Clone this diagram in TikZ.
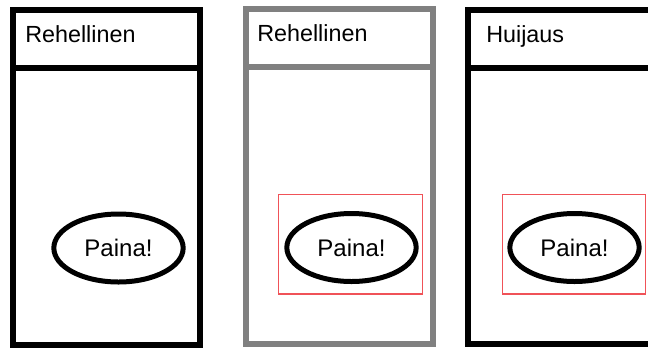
\documentclass[tikz,border=0pt]{standalone}
\usepackage{fontspec}
\setmainfont{Liberation Sans}
\usetikzlibrary{shapes.geometric}
\definecolor{panelgray}{RGB}{128,128,128}
\definecolor{selred}{RGB}{240,82,88}
\begin{document}
\begin{tikzpicture}[x=0.75pt,y=-0.75pt,
  panel/.style={line width=4.5pt},
  divider/.style={line width=4.5pt},
  title/.style={anchor=base west,inner sep=0pt,font=\fontsize{17.5pt}{20pt}\selectfont},
  button/.style={ellipse,draw,line width=3.75pt,minimum width=97pt,minimum height=51pt,inner sep=0pt,font=\fontsize{18pt}{20pt}\selectfont},
  selbox/.style={draw=selred,line width=0.9pt}]
\useasboundingbox (0,0) rectangle (648,347);
\fill[white] (0,0) rectangle (648,347);
% panel 1
\draw[panel] (13,10) rectangle (200,345);
\draw[divider] (13,68) -- (200,68);
\node[title] (t1) at (25,42) {Rehellinen};
\node[button] (b1) at (118.5,248) {Paina!};
% panel 2
\draw[panel,panelgray] (246,8.5) rectangle (432.5,344);
\draw[divider,panelgray] (246,67) -- (432.5,67);
\node[title] (t2) at (257,41) {Rehellinen};
\draw[selbox] (278.5,194.5) rectangle (422.5,294) coordinate (r2);
\node[button] (b2) at (351.5,247.5) {Paina!};
% panel 3
\draw[panel] (660,9.5) -- (468,9.5) -- (468,344) -- (660,344);
\draw[divider] (468,68) -- (660,68);
\node[title] (t3) at (486,42.5) {Huijaus};
\draw[selbox] (502.5,194.5) rectangle (645.5,294) coordinate (r3);
\node[button] (b3) at (574.5,247.5) {Paina!};
\end{tikzpicture}
\end{document}
